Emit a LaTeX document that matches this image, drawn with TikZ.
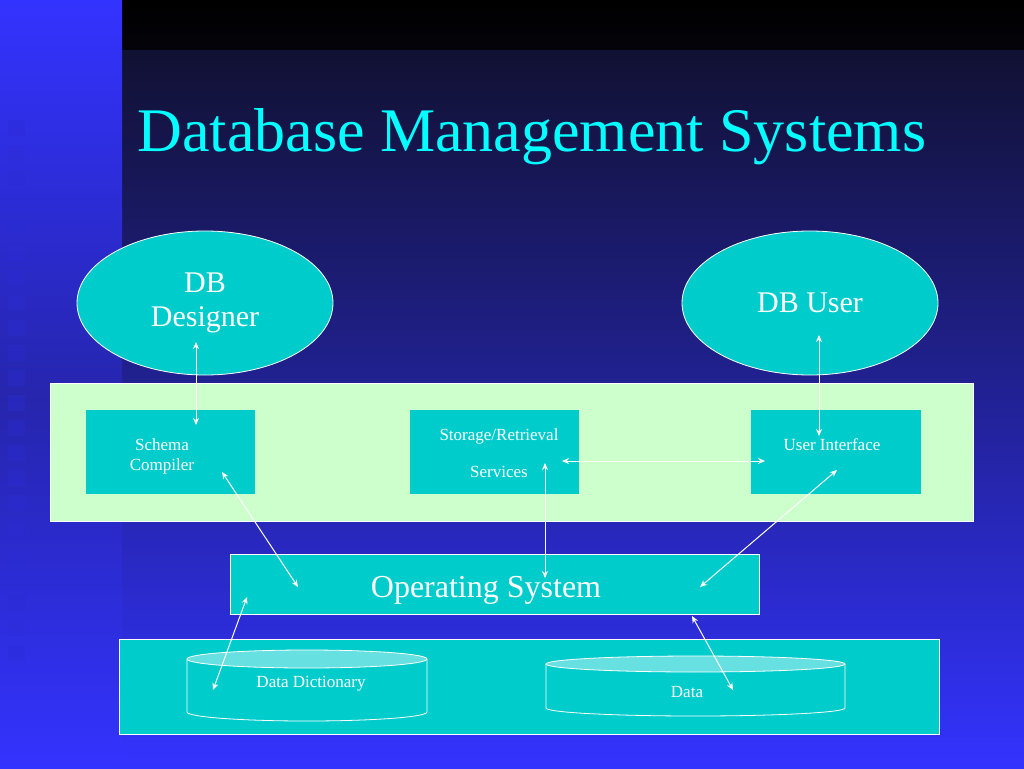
\documentclass[tikz,border=0pt]{standalone}
\usepackage{fontspec}
\setmainfont{Liberation Serif}
\usetikzlibrary{shapes.geometric,arrows.meta}
\definecolor{tealbox}{HTML}{00CCCC}
\definecolor{mint}{HTML}{CCFFCC}
\definecolor{brightblue}{HTML}{3333FF}
\definecolor{navy}{HTML}{111133}
\definecolor{ink}{HTML}{00FFFF}

\begin{document}
\begin{tikzpicture}[x=1pt,y=-1pt,
    box/.style={draw=white,fill=tealbox,line width=0.8pt},
    ell/.style={ellipse,draw=white,fill=tealbox,text=white,line width=0.8pt,minimum width=256pt,minimum height=144pt,font=\fontsize{30}{34}\selectfont,align=center,inner sep=0pt},
    lbl/.style={text=white,font=\fontsize{17}{20}\selectfont,align=center},
    link/.style={draw=white,line width=1pt,{Stealth[length=7pt,width=6pt]}-{Stealth[length=7pt,width=6pt]}}]
      % background
      \useasboundingbox (0,0) rectangle (1024,768);
      \shade[top color=navy,bottom color=brightblue] (0,50) rectangle (1024,768);
      \shade[top color=black,bottom color=black!80!navy] (122,0) rectangle (1024,50);
      \shade[top color=brightblue,bottom color=brightblue!60!navy] (0,0) rectangle (122,400);
      \shade[top color=brightblue!60!navy,bottom color=brightblue] (0,400) rectangle (122,768);
      \foreach \y in {120,145,...,645}
        \fill[brightblue!80!navy,opacity=0.35] (8,\y) rectangle (25,\y+16);

      % title
      \node[text=ink,font=\fontsize{62}{68}\selectfont,anchor=west] (title) at (134,137) {Database Management Systems};

      % panels
      \draw[draw=white,fill=mint] (50,383) rectangle (973,521);
      \draw[box] (119,639) rectangle (939,734);

      % users
      \node[ell] (designer) at (205,303) {DB\\Designer};
      \node[ell] (user) at (810,303) {DB User};

      % modules
      \draw[box,draw=none] (86,410) rectangle (255,494);
      \node[lbl] (schema) at (162,456) {Schema\\Compiler};
      \draw[box,draw=none] (410,410) rectangle (579,494);
      \node[lbl,align=center] (storage) at (499,436) {Storage/Retrieval};
      \node[lbl] (services) at (499,472) {Services};
      \draw[box,draw=none] (751,410) rectangle (921,494);
      \node[lbl] (ui) at (832,445) {User Interface};

      % operating system
      \draw[box] (230,554) rectangle (759,614);
      \node[text=white,font=\fontsize{32}{36}\selectfont] (os) at (486,590) {Operating System};

      % storage cylinders
      \draw[draw=white,fill=tealbox,line width=0.8pt] (187,659) -- (187,712) arc[start angle=180,end angle=0,x radius=120,y radius=9] -- (427,659);
      \draw[draw=white,fill=tealbox!60!white,line width=0.8pt] (307,659) ellipse[x radius=120,y radius=9];
      \node[lbl] (dict) at (311,684) {Data Dictionary};
      \draw[draw=white,fill=tealbox,line width=0.8pt] (546,664) -- (546,708) arc[start angle=180,end angle=0,x radius=149.5,y radius=8] -- (845,664);
      \draw[draw=white,fill=tealbox!60!white,line width=0.8pt] (695.5,664) ellipse[x radius=149.5,y radius=8];
      \node[lbl] (data) at (687,692) {Data};

      % connectors
      \coordinate (a1) at (196,342); \coordinate (a2) at (196,425);
      \coordinate (b1) at (819,335); \coordinate (b2) at (819,436);
      \coordinate (c1) at (562,461); \coordinate (c2) at (765,461);
      \coordinate (d1) at (545,463); \coordinate (d2) at (545,578);
      \coordinate (e1) at (222,472); \coordinate (e2) at (298,587);
      \coordinate (f1) at (837,470); \coordinate (f2) at (700,587);
      \coordinate (g1) at (247,597); \coordinate (g2) at (213,690);
      \coordinate (h1) at (692,616); \coordinate (h2) at (733,690);
      \foreach \s/\t in {a1/a2,b1/b2,c1/c2,d1/d2,e1/e2,f1/f2,g1/g2,h1/h2}
        \draw[link] (\s) -- (\t);
    \end{tikzpicture}
\end{document}
